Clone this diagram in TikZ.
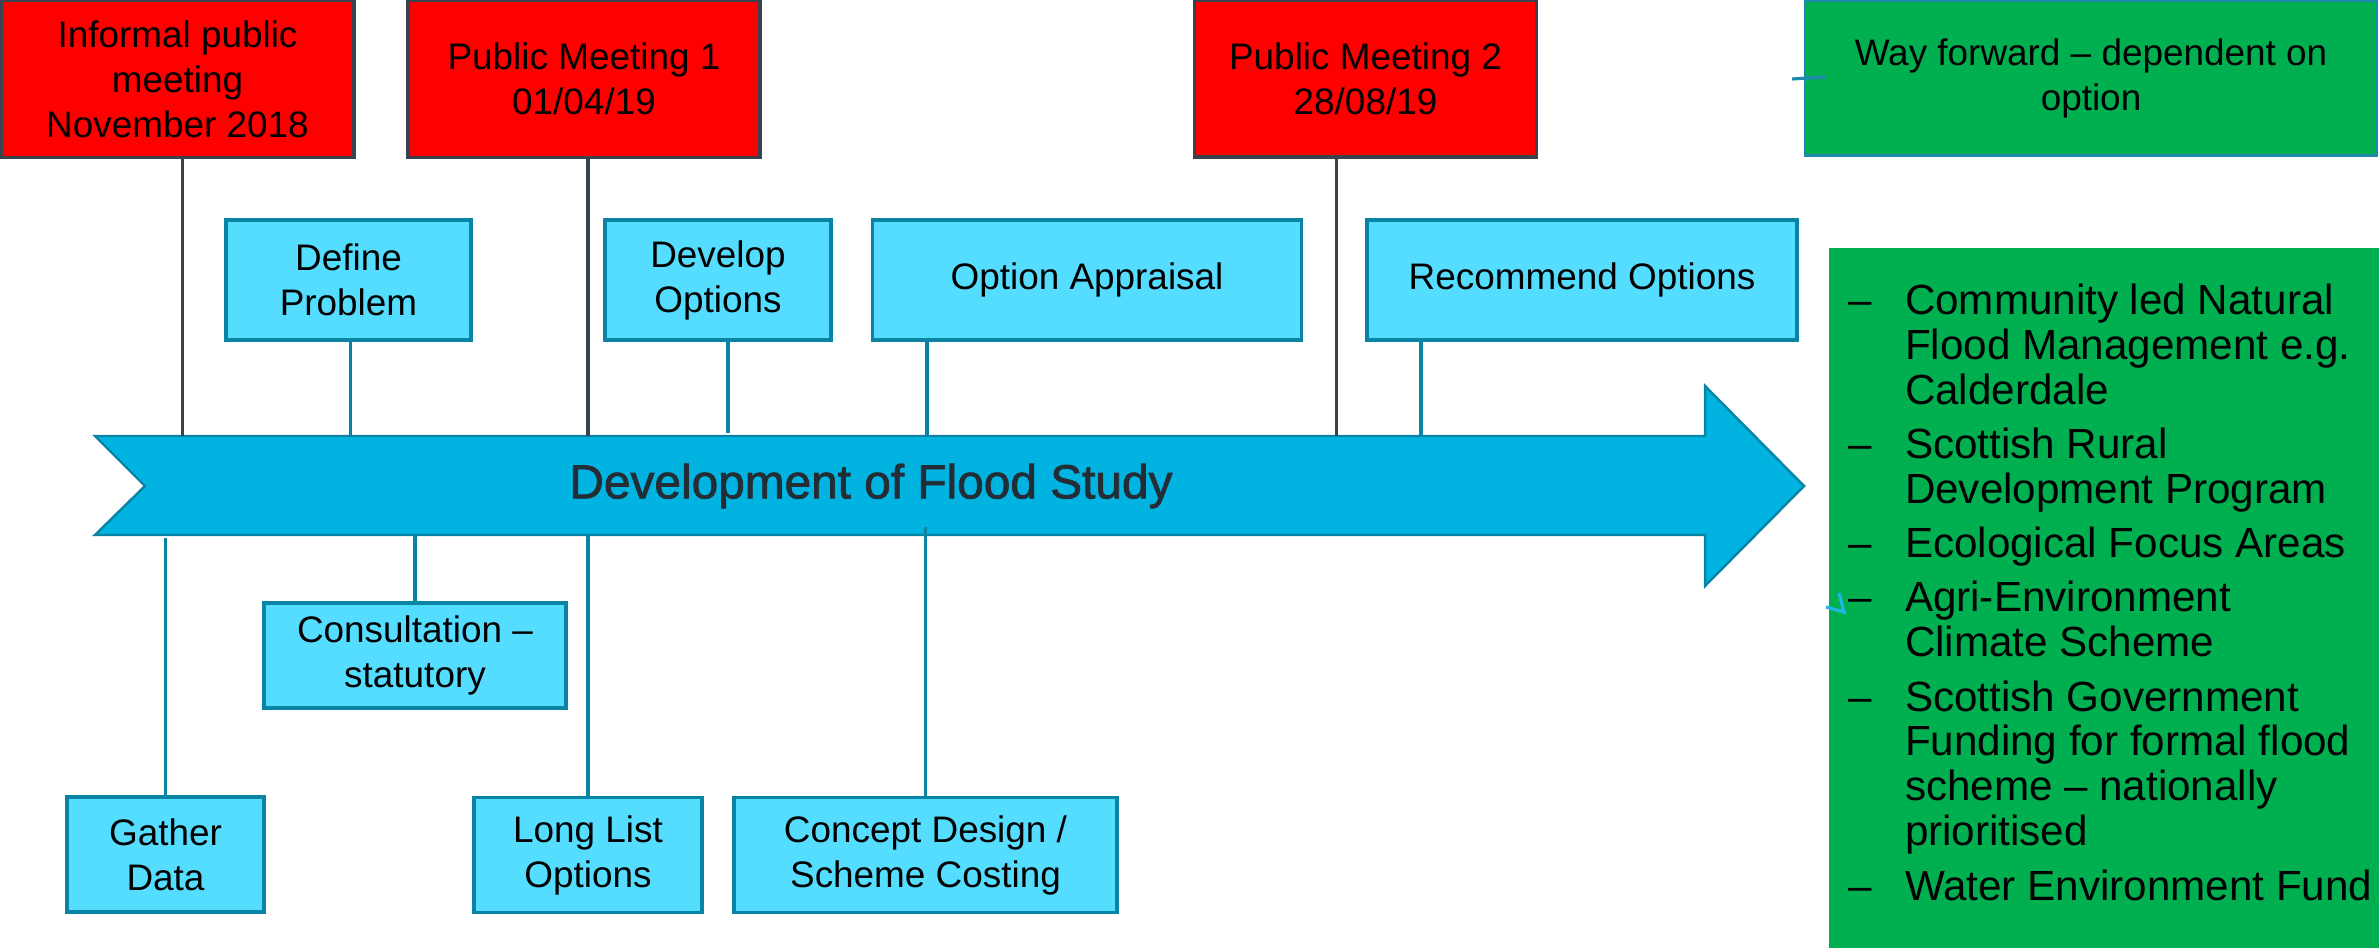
\documentclass[tikz,border=0pt]{standalone}
\usepackage{fontspec}
\setmainfont{Liberation Sans}
\newfontfamily\titlefont[FakeBold=1.6]{Liberation Sans}
\usepackage{tikz}
\usetikzlibrary{positioning}

\definecolor{meetred}{HTML}{FF0000}
\definecolor{meetline}{HTML}{38434D}
\definecolor{taskfill}{HTML}{55DDFF}
\definecolor{taskline}{HTML}{0A84A4}
\definecolor{arrowfill}{HTML}{00B3E0}
\definecolor{fundgreen}{HTML}{00B050}
\definecolor{titlegrey}{HTML}{232D35}
\definecolor{stubblue}{HTML}{1E88AE}
\definecolor{stubcyan}{HTML}{22B6E6}

\newcommand{\listdash}{\llap{–\hspace{0.33cm}}}

\begin{document}
\begin{tikzpicture}[
    x=1cm, y=1cm,
    box/.style={rectangle, inner sep=2pt, align=center,
                font=\fontsize{10.5}{12.8}\selectfont},
    meeting/.style={box, fill=meetred, draw=meetline, line width=1.1pt,
                    minimum width=3.52cm, minimum height=1.57cm},
    task/.style={box, fill=taskfill, draw=taskline, line width=1pt,
                 minimum height=1.2cm},
    wayfwd/.style={box, fill=fundgreen, draw=stubblue, line width=0.7pt,
                   minimum width=5.72cm, minimum height=1.55cm},
    fundbox/.style={rectangle, fill=fundgreen, inner sep=0,
                    minimum width=5.5cm, minimum height=7.0cm},
    fundlist/.style={align=left, inner sep=0,
                     font=\fontsize{12}{12.8}\selectfont},
    flowarrow/.style={fill=arrowfill, draw=taskline, line width=0.7pt},
    title/.style={text=titlegrey, inner sep=0,
                  font=\titlefont\fontsize{13.6}{16}\selectfont},
    meettie/.style={draw=meetline, line width=1pt},
    tasktie/.style={draw=taskline, line width=0.9pt},
    stub/.style={line width=0.9pt}
]
\useasboundingbox (0,0) rectangle (23.79,-9.48);

%% Main timeline arrow
\draw[flowarrow] (0.95,-4.36) -- (17.05,-4.36) -- (17.05,-3.86) -- (18.04,-4.86)
    -- (17.05,-5.86) -- (17.05,-5.35) -- (0.95,-5.35) -- (1.45,-4.86) -- cycle;
\coordinate (shafttop) at (0,-4.36);
\coordinate (shaftbot) at (0,-5.35);
\node[title] (title) at (8.71,-4.86) {Development of Flood Study};

%% Meetings
\node[meeting, minimum width=3.53cm] (infomeet) at (1.775,-0.79) {%
    Informal public\\meeting\\November 2018};
\node[meeting] (meet1) at (5.84,-0.79) {Public Meeting 1\\01/04/19};
\node[meeting, minimum width=3.42cm] (meet2) at (13.655,-0.785) {%
    Public Meeting 2\\28/08/19};

%% Way forward
\node[wayfwd] (wayfwd) at (20.91,-0.78) {Way forward – dependent on\\option};

%% Stages above the arrow
\node[task, minimum width=2.45cm] (defprob) at (3.485,-2.80) {Define\\Problem};
\node[task, minimum width=2.26cm] (devopt) at (7.18,-2.80) {Develop\\Options};
\node[task, minimum width=4.29cm, right=0.38cm of devopt] (optappr) {Option Appraisal};
\node[task, minimum width=4.30cm, right=0.62cm of optappr] (recopt) {Recommend Options};

%% Stages below the arrow
\node[task, minimum width=3.02cm, minimum height=1.05cm] (consult) at (4.15,-6.555) {%
    Consultation –\\statutory};
\node[task, minimum width=1.97cm, minimum height=1.15cm] (gather) at (1.655,-8.545) {%
    Gather\\Data};
\node[task, minimum width=2.28cm, minimum height=1.15cm] (longlist) at (5.88,-8.55) {%
    Long List\\Options};
\node[task, minimum width=3.83cm, minimum height=1.15cm] (concept) at (9.255,-8.55) {%
    Concept Design /\\Scheme Costing};

%% Funding options
\node[fundbox] (fundbox) at (21.04,-5.98) {};
\node[fundlist, below right=0.36cm and 0.76cm of fundbox.north west] (fundlist) {%
    \listdash Community led Natural\\
    Flood Management e.g.\\
    Calderdale\\[2.6pt]
    \listdash Scottish Rural\\
    Development Program\\[2.6pt]
    \listdash Ecological Focus Areas\\[2.6pt]
    \listdash Agri-Environment\\
    Climate Scheme\\[2.6pt]
    \listdash Scottish Government\\
    Funding for formal flood\\
    scheme – nationally\\
    prioritised\\[2.6pt]
    \listdash Water Environment Fund};

%% Ties: meetings -> arrow
\draw[meettie] ([xshift=0.05cm]infomeet.south) -- ([xshift=0.05cm]infomeet.south |- shafttop);
\draw[meettie] ([xshift=0.04cm]meet1.south) -- ([xshift=0.04cm]meet1.south |- shafttop);
\draw[meettie] ([xshift=-0.29cm]meet2.south) -- ([xshift=-0.29cm]meet2.south |- shafttop);

%% Ties: stages above -> arrow
\draw[tasktie] ([xshift=0.02cm]defprob.south) -- ([xshift=0.02cm]defprob.south |- shafttop);
\draw[tasktie] ([xshift=0.10cm]devopt.south) -- ([xshift=0.10cm, yshift=0.03cm]devopt.south |- shafttop);
\draw[tasktie] ([xshift=-1.6cm]optappr.south) -- ([xshift=-1.6cm]optappr.south |- shafttop);
\draw[tasktie] ([xshift=-1.61cm]recopt.south) -- ([xshift=-1.61cm]recopt.south |- shafttop);

%% Ties: arrow -> stages below
\draw[tasktie] (gather.north) -- ([yshift=-0.03cm]gather.north |- shaftbot);
\draw[tasktie] (consult.north) -- (consult.north |- shaftbot);
\draw[tasktie] (longlist.north) -- (longlist.north |- shaftbot);
\draw[tasktie] (concept.north) -- ([yshift=0.08cm]concept.north |- shaftbot);

%% Loose connector ends
\coordinate (wfstub) at (17.92,-0.79);
\draw[stub, draw=stubblue] (wfstub) -- ([xshift=0.22cm, yshift=0.01cm]wayfwd.west);
\coordinate (agristub) at (18.26,-6.07);
\draw[stub, draw=stubcyan] (agristub) -- ++(0.18,-0.05) -- ++(-0.05,0.19);

\end{tikzpicture}
\end{document}
